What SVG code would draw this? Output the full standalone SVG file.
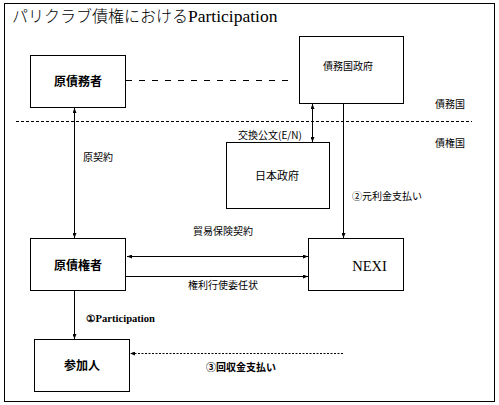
<svg xmlns="http://www.w3.org/2000/svg" width="499" height="405" viewBox="0 0 499 405">
<defs>
<style>
.box{fill:#fff;stroke:#000;stroke-width:1}
.ln{stroke:#000;stroke-width:1;fill:none}
.jp{font-family:"Noto Sans CJK JP","Noto Sans CJK SC",sans-serif;fill:#000}
.lbl{font-size:10px}
.bold{font-weight:bold}
.serif{font-family:"Liberation Serif",serif;fill:#000}
</style>
<marker id="ah" viewBox="0 0 5 4" refX="5" refY="2" markerWidth="5" markerHeight="4" markerUnits="userSpaceOnUse" orient="auto-start-reverse">
<path d="M0,0 L5,2 L0,4 Z" fill="#000"/>
</marker>
</defs>
<rect x="0" y="0" width="499" height="405" fill="#fff"/>
<rect x="4.5" y="3.5" width="490" height="398" class="box"/>
<text x="12" y="22" class="jp" font-size="16" font-weight="300">パリクラブ債権における<tspan font-family="Liberation Serif, serif" font-size="17.5">Participation</tspan></text>

<g id="connectors">
<line x1="126" y1="80.5" x2="294" y2="80.5" class="ln" stroke-dasharray="6,7"/>
<line x1="16" y1="121.5" x2="472" y2="121.5" class="ln" stroke-dasharray="3,2"/>
<line x1="74.5" y1="108" x2="74.5" y2="238" class="ln" marker-start="url(#ah)" marker-end="url(#ah)"/>
<line x1="312.5" y1="104" x2="312.5" y2="142" class="ln" marker-start="url(#ah)" marker-end="url(#ah)"/>
<line x1="343.5" y1="103" x2="343.5" y2="238" class="ln" marker-end="url(#ah)"/>
<line x1="127" y1="256.5" x2="308" y2="256.5" class="ln" marker-start="url(#ah)" marker-end="url(#ah)"/>
<line x1="126" y1="276.5" x2="308" y2="276.5" class="ln" marker-end="url(#ah)"/>
<line x1="74.5" y1="290" x2="74.5" y2="339" class="ln" marker-end="url(#ah)"/>
<line x1="343" y1="353.5" x2="130" y2="353.5" class="ln" stroke-dasharray="2,1.5" marker-end="url(#ah)"/>
<text x="83" y="161" class="jp lbl">原契約</text>
<text x="238" y="139" class="jp lbl">交換公文(E/N)</text>
<text x="352" y="200" class="jp lbl">②元利金支払い</text>
<text x="193" y="235" class="jp lbl">貿易保険契約</text>
<text x="188" y="289" class="jp lbl">権利行使委任状</text>
<text x="86" y="321.5" class="serif bold" font-size="10" textLength="69" lengthAdjust="spacingAndGlyphs">①Participation</text>
<text x="206" y="370.5" class="jp lbl bold" textLength="70" lengthAdjust="spacingAndGlyphs">③回収金支払い</text>
<text x="435" y="107.5" class="jp lbl">債務国</text>
<text x="435" y="147" class="jp lbl">債権国</text>
</g>

<g id="n-genSaimusha">
<rect x="30.5" y="55.5" width="95" height="52" class="box"/>
<text x="78" y="86" class="jp bold" font-size="12" text-anchor="middle">原債務者</text>
</g>
<g id="n-saimukokuSeifu">
<rect x="299.5" y="36.5" width="104" height="67" class="box"/>
<text x="348" y="70" class="jp" font-size="10" text-anchor="middle">債務国政府</text>
</g>
<g id="n-nihonSeifu">
<rect x="226.5" y="142.5" width="103" height="66" class="box"/>
<text x="277" y="180" class="jp" font-size="11" text-anchor="middle">日本政府</text>
</g>
<g id="n-genSaikensha">
<rect x="30.5" y="238.5" width="95" height="52" class="box"/>
<text x="78" y="270" class="jp bold" font-size="12" text-anchor="middle">原債権者</text>
</g>
<g id="n-nexi">
<rect x="308.5" y="238.5" width="95" height="52" class="box"/>
<text x="369.5" y="271" class="serif" font-size="14.5" text-anchor="middle">NEXI</text>
</g>
<g id="n-sankanin">
<rect x="34.5" y="339.5" width="95" height="52" class="box"/>
<text x="82" y="369.5" class="jp bold" font-size="12" text-anchor="middle">参加人</text>
</g>
</svg>
